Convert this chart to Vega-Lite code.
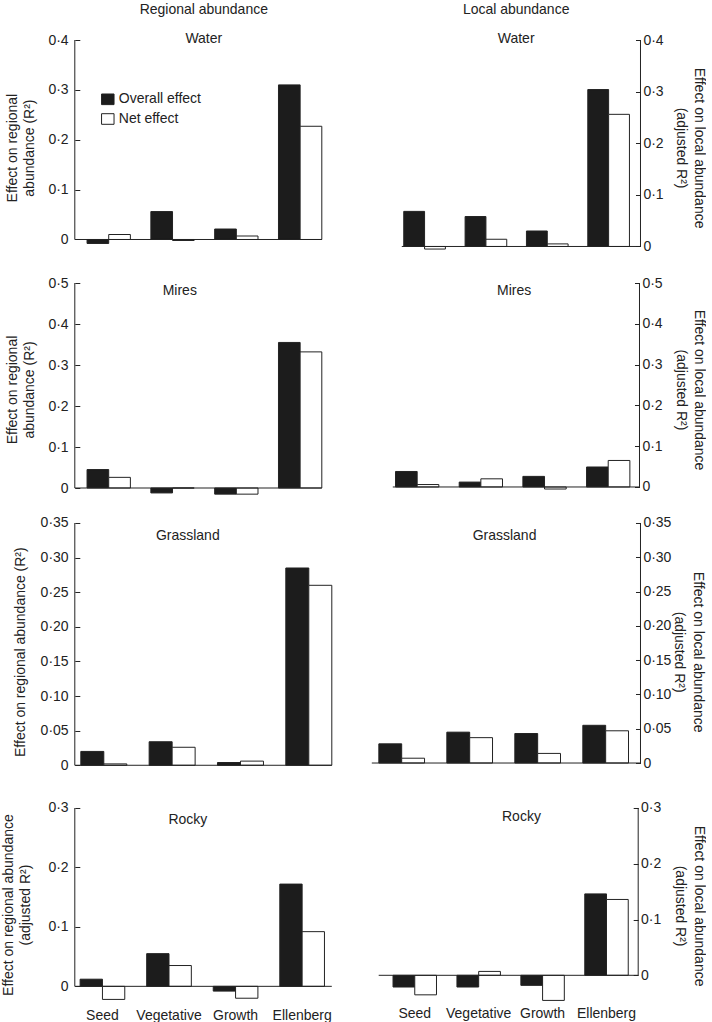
{
  "$schema": "https://vega.github.io/schema/vega-lite/v6.json",
  "padding": {"left": 1.8, "top": 2, "right": 0, "bottom": 0},
  "config": {
    "font": "Liberation Sans",
    "view": {"stroke": null},
    "axis": {"labelFontSize": 14, "titleFontSize": 14, "titleFontWeight": "normal", "labelColor": "#222", "titleColor": "#222", "tickColor": "#222", "tickSize": -5, "tickWidth": 1, "domain": false, "grid": false, "labelOverlap": false, "tickCount": 12},
    "title": {"fontSize": 14, "fontWeight": "normal", "color": "#222", "subtitleFontSize": 14, "subtitleColor": "#222", "subtitleFont": "Liberation Sans", "subtitlePadding": 15, "frame": "group", "anchor": "middle"},
    "legend": {"labelFontSize": 14, "labelColor": "#222"}
  },
  "datasets": {
    "d": [
      {"habitat": "Water", "scope": "regional", "trait": "Seed", "effect": "Overall effect", "value": -0.008},
      {"habitat": "Water", "scope": "regional", "trait": "Seed", "effect": "Net effect", "value": 0.010},
      {"habitat": "Water", "scope": "regional", "trait": "Vegetative", "effect": "Overall effect", "value": 0.056},
      {"habitat": "Water", "scope": "regional", "trait": "Vegetative", "effect": "Net effect", "value": -0.002},
      {"habitat": "Water", "scope": "regional", "trait": "Growth", "effect": "Overall effect", "value": 0.021},
      {"habitat": "Water", "scope": "regional", "trait": "Growth", "effect": "Net effect", "value": 0.007},
      {"habitat": "Water", "scope": "regional", "trait": "Ellenberg", "effect": "Overall effect", "value": 0.310},
      {"habitat": "Water", "scope": "regional", "trait": "Ellenberg", "effect": "Net effect", "value": 0.227},
      {"habitat": "Water", "scope": "local", "trait": "Seed", "effect": "Overall effect", "value": 0.068},
      {"habitat": "Water", "scope": "local", "trait": "Seed", "effect": "Net effect", "value": -0.005},
      {"habitat": "Water", "scope": "local", "trait": "Vegetative", "effect": "Overall effect", "value": 0.058},
      {"habitat": "Water", "scope": "local", "trait": "Vegetative", "effect": "Net effect", "value": 0.014},
      {"habitat": "Water", "scope": "local", "trait": "Growth", "effect": "Overall effect", "value": 0.030},
      {"habitat": "Water", "scope": "local", "trait": "Growth", "effect": "Net effect", "value": 0.005},
      {"habitat": "Water", "scope": "local", "trait": "Ellenberg", "effect": "Overall effect", "value": 0.304},
      {"habitat": "Water", "scope": "local", "trait": "Ellenberg", "effect": "Net effect", "value": 0.256},
      {"habitat": "Mires", "scope": "regional", "trait": "Seed", "effect": "Overall effect", "value": 0.045},
      {"habitat": "Mires", "scope": "regional", "trait": "Seed", "effect": "Net effect", "value": 0.026},
      {"habitat": "Mires", "scope": "regional", "trait": "Vegetative", "effect": "Overall effect", "value": -0.012},
      {"habitat": "Mires", "scope": "regional", "trait": "Vegetative", "effect": "Net effect", "value": 0.0},
      {"habitat": "Mires", "scope": "regional", "trait": "Growth", "effect": "Overall effect", "value": -0.015},
      {"habitat": "Mires", "scope": "regional", "trait": "Growth", "effect": "Net effect", "value": -0.015},
      {"habitat": "Mires", "scope": "regional", "trait": "Ellenberg", "effect": "Overall effect", "value": 0.355},
      {"habitat": "Mires", "scope": "regional", "trait": "Ellenberg", "effect": "Net effect", "value": 0.332},
      {"habitat": "Mires", "scope": "local", "trait": "Seed", "effect": "Overall effect", "value": 0.038},
      {"habitat": "Mires", "scope": "local", "trait": "Seed", "effect": "Net effect", "value": 0.006},
      {"habitat": "Mires", "scope": "local", "trait": "Vegetative", "effect": "Overall effect", "value": 0.012},
      {"habitat": "Mires", "scope": "local", "trait": "Vegetative", "effect": "Net effect", "value": 0.020},
      {"habitat": "Mires", "scope": "local", "trait": "Growth", "effect": "Overall effect", "value": 0.026},
      {"habitat": "Mires", "scope": "local", "trait": "Growth", "effect": "Net effect", "value": -0.005},
      {"habitat": "Mires", "scope": "local", "trait": "Ellenberg", "effect": "Overall effect", "value": 0.049},
      {"habitat": "Mires", "scope": "local", "trait": "Ellenberg", "effect": "Net effect", "value": 0.065},
      {"habitat": "Grassland", "scope": "regional", "trait": "Seed", "effect": "Overall effect", "value": 0.020},
      {"habitat": "Grassland", "scope": "regional", "trait": "Seed", "effect": "Net effect", "value": 0.002},
      {"habitat": "Grassland", "scope": "regional", "trait": "Vegetative", "effect": "Overall effect", "value": 0.034},
      {"habitat": "Grassland", "scope": "regional", "trait": "Vegetative", "effect": "Net effect", "value": 0.026},
      {"habitat": "Grassland", "scope": "regional", "trait": "Growth", "effect": "Overall effect", "value": 0.004},
      {"habitat": "Grassland", "scope": "regional", "trait": "Growth", "effect": "Net effect", "value": 0.006},
      {"habitat": "Grassland", "scope": "regional", "trait": "Ellenberg", "effect": "Overall effect", "value": 0.285},
      {"habitat": "Grassland", "scope": "regional", "trait": "Ellenberg", "effect": "Net effect", "value": 0.260},
      {"habitat": "Grassland", "scope": "local", "trait": "Seed", "effect": "Overall effect", "value": 0.028},
      {"habitat": "Grassland", "scope": "local", "trait": "Seed", "effect": "Net effect", "value": 0.007},
      {"habitat": "Grassland", "scope": "local", "trait": "Vegetative", "effect": "Overall effect", "value": 0.045},
      {"habitat": "Grassland", "scope": "local", "trait": "Vegetative", "effect": "Net effect", "value": 0.037},
      {"habitat": "Grassland", "scope": "local", "trait": "Growth", "effect": "Overall effect", "value": 0.043},
      {"habitat": "Grassland", "scope": "local", "trait": "Growth", "effect": "Net effect", "value": 0.014},
      {"habitat": "Grassland", "scope": "local", "trait": "Ellenberg", "effect": "Overall effect", "value": 0.055},
      {"habitat": "Grassland", "scope": "local", "trait": "Ellenberg", "effect": "Net effect", "value": 0.047},
      {"habitat": "Rocky", "scope": "regional", "trait": "Seed", "effect": "Overall effect", "value": 0.012},
      {"habitat": "Rocky", "scope": "regional", "trait": "Seed", "effect": "Net effect", "value": -0.022},
      {"habitat": "Rocky", "scope": "regional", "trait": "Vegetative", "effect": "Overall effect", "value": 0.055},
      {"habitat": "Rocky", "scope": "regional", "trait": "Vegetative", "effect": "Net effect", "value": 0.035},
      {"habitat": "Rocky", "scope": "regional", "trait": "Growth", "effect": "Overall effect", "value": -0.008},
      {"habitat": "Rocky", "scope": "regional", "trait": "Growth", "effect": "Net effect", "value": -0.020},
      {"habitat": "Rocky", "scope": "regional", "trait": "Ellenberg", "effect": "Overall effect", "value": 0.172},
      {"habitat": "Rocky", "scope": "regional", "trait": "Ellenberg", "effect": "Net effect", "value": 0.092},
      {"habitat": "Rocky", "scope": "local", "trait": "Seed", "effect": "Overall effect", "value": -0.021},
      {"habitat": "Rocky", "scope": "local", "trait": "Seed", "effect": "Net effect", "value": -0.035},
      {"habitat": "Rocky", "scope": "local", "trait": "Vegetative", "effect": "Overall effect", "value": -0.021},
      {"habitat": "Rocky", "scope": "local", "trait": "Vegetative", "effect": "Net effect", "value": 0.007},
      {"habitat": "Rocky", "scope": "local", "trait": "Growth", "effect": "Overall effect", "value": -0.018},
      {"habitat": "Rocky", "scope": "local", "trait": "Growth", "effect": "Net effect", "value": -0.045},
      {"habitat": "Rocky", "scope": "local", "trait": "Ellenberg", "effect": "Overall effect", "value": 0.146},
      {"habitat": "Rocky", "scope": "local", "trait": "Ellenberg", "effect": "Net effect", "value": 0.136}
    ]
  },
  "spacing": 20,
  "resolve": {"scale": {"x": "independent", "y": "independent", "xOffset": "independent"}, "legend": {"fill": "independent"}},
  "vconcat": [
    {
      "spacing": 78,
      "resolve": {"scale": {"x": "independent", "y": "independent", "xOffset": "independent"}, "legend": {"fill": "independent"}},
      "hconcat": [
        {
          "width": 247, "height": 215.2,
          "title": {"text": "Regional abundance", "subtitle": "Water", "dx": 5.5, "offset": -12.5},
          "data": {"name": "d"},
          "transform": [{"filter": "datum.habitat === 'Water' && datum.scope === 'regional'"}],
          "layer": [
            {"mark": {"type": "bar", "stroke": "#222", "strokeWidth": 1},
             "encoding": {
               "x": {"field": "trait", "type": "nominal", "sort": ["Seed", "Vegetative", "Growth", "Ellenberg"], "scale": {"paddingInner": 0.321, "paddingOuter": 0.096, "align": 1}, "axis": null},
               "xOffset": {"field": "effect", "type": "nominal", "sort": ["Overall effect", "Net effect"], "scale": {"paddingInner": 0, "paddingOuter": 0}},
               "y": {"field": "value", "type": "quantitative", "scale": {"domain": [-0.0315, 0.4], "nice": false, "zero": false},
                     "axis": {"values": [0, 0.1, 0.2, 0.3, 0.4], "tickCount": 12, "labelOverlap": false, "labelExpr": "datum.value === 0 ? '0' : replace(format(datum.value, '.1f'), '.', '·')", "title": ["Effect on regional", "abundance (R²)"], "titlePadding": 11.8, "titleLineHeight": 16.5, "labelPadding": 11.7}},
               "fill": {"field": "effect", "type": "nominal", "scale": {"domain": ["Overall effect", "Net effect"], "range": ["#1c1c1c", "#ffffff"]},
                        "legend": {"orient": "none", "legendX": 26, "legendY": 52.3, "title": null, "symbolType": "M-1,-0.85H1V0.85H-1Z", "symbolSize": 156, "symbolStrokeColor": "#222", "symbolStrokeWidth": 1, "labelOffset": 4, "rowPadding": 3.7, "padding": 0}}
             }},
            {"data": {"values": [{}]}, "mark": {"type": "rule", "color": "#222"}, "encoding": {"y": {"datum": 0}}},
            {"data": {"values": [{}]}, "mark": {"type": "rule", "color": "#222", "x": 0}, "encoding": {"y": {"datum": 0}, "y2": {"datum": 0.4}}}
          ]
        },
        {
          "width": 238.7, "height": 215.2,
          "title": {"text": "Local abundance", "subtitle": "Water", "dx": -5, "offset": -12.5},
          "data": {"name": "d"},
          "transform": [{"filter": "datum.habitat === 'Water' && datum.scope === 'local'"}],
          "layer": [
            {"mark": {"type": "bar", "stroke": "#222", "strokeWidth": 1},
             "encoding": {
               "x": {"field": "trait", "type": "nominal", "sort": ["Seed", "Vegetative", "Growth", "Ellenberg"], "scale": {"paddingInner": 0.321, "paddingOuter": 0.106, "align": 0.15}, "axis": null},
               "xOffset": {"field": "effect", "type": "nominal", "sort": ["Overall effect", "Net effect"], "scale": {"paddingInner": 0, "paddingOuter": 0}},
               "y": {"field": "value", "type": "quantitative", "scale": {"domain": [-0.0169, 0.4], "nice": false, "zero": false},
                     "axis": {"orient": "right", "values": [0, 0.1, 0.2, 0.3, 0.4], "tickCount": 12, "labelOverlap": false, "labelExpr": "datum.value === 0 ? '0' : replace(format(datum.value, '.1f'), '.', '·')", "title": ["Effect on local abundance", "(adjusted R²)"], "titlePadding": 10, "titleLineHeight": 18.4, "labelPadding": 7.4}},
               "fill": {"field": "effect", "type": "nominal", "scale": {"domain": ["Overall effect", "Net effect"], "range": ["#1c1c1c", "#ffffff"]}, "legend": null}
             }},
            {"data": {"values": [{}]}, "mark": {"type": "rule", "color": "#222"}, "encoding": {"y": {"datum": 0}}},
            {"data": {"values": [{}]}, "mark": {"type": "rule", "color": "#222", "x": "width"}, "encoding": {"y": {"datum": 0}, "y2": {"datum": 0.4}}}
          ]
        }
      ]
    },
    {
      "spacing": 69,
      "resolve": {"scale": {"x": "independent", "y": "independent", "xOffset": "independent"}, "legend": {"fill": "independent"}},
      "hconcat": [
        {
          "width": 247, "height": 213,
          "title": {"text": "Mires", "dx": -18.5, "offset": -21.8},
          "data": {"name": "d"},
          "transform": [{"filter": "datum.habitat === 'Mires' && datum.scope === 'regional'"}],
          "layer": [
            {"mark": {"type": "bar", "stroke": "#222", "strokeWidth": 1},
             "encoding": {
               "x": {"field": "trait", "type": "nominal", "sort": ["Seed", "Vegetative", "Growth", "Ellenberg"], "scale": {"paddingInner": 0.321, "paddingOuter": 0.096, "align": 1}, "axis": null},
               "xOffset": {"field": "effect", "type": "nominal", "sort": ["Overall effect", "Net effect"], "scale": {"paddingInner": 0, "paddingOuter": 0}},
               "y": {"field": "value", "type": "quantitative", "scale": {"domain": [-0.0195, 0.5], "nice": false, "zero": false},
                     "axis": {"values": [0, 0.1, 0.2, 0.3, 0.4, 0.5], "tickCount": 12, "labelOverlap": false, "labelExpr": "datum.value === 0 ? '0' : replace(format(datum.value, '.1f'), '.', '·')", "title": ["Effect on regional", "abundance (R²)"], "titlePadding": 11.8, "titleLineHeight": 16.5, "labelPadding": 11.7}},
               "fill": {"field": "effect", "type": "nominal", "scale": {"domain": ["Overall effect", "Net effect"], "range": ["#1c1c1c", "#ffffff"]}, "legend": null}
             }},
            {"data": {"values": [{}]}, "mark": {"type": "rule", "color": "#222"}, "encoding": {"y": {"datum": 0}}},
            {"data": {"values": [{}]}, "mark": {"type": "rule", "color": "#222", "x": 0}, "encoding": {"y": {"datum": 0}, "y2": {"datum": 0.5}}}
          ]
        },
        {
          "width": 246.7, "height": 213,
          "title": {"text": "Mires", "dx": -2, "offset": -21.8},
          "data": {"name": "d"},
          "transform": [{"filter": "datum.habitat === 'Mires' && datum.scope === 'local'"}],
          "layer": [
            {"mark": {"type": "bar", "stroke": "#222", "strokeWidth": 1},
             "encoding": {
               "x": {"field": "trait", "type": "nominal", "sort": ["Seed", "Vegetative", "Growth", "Ellenberg"], "scale": {"paddingInner": 0.32, "paddingOuter": 0.097, "align": 0.22}, "axis": null},
               "xOffset": {"field": "effect", "type": "nominal", "sort": ["Overall effect", "Net effect"], "scale": {"paddingInner": 0, "paddingOuter": 0}},
               "y": {"field": "value", "type": "quantitative", "scale": {"domain": [-0.0221, 0.5], "nice": false, "zero": false},
                     "axis": {"orient": "right", "values": [0, 0.1, 0.2, 0.3, 0.4, 0.5], "tickCount": 12, "labelOverlap": false, "labelExpr": "datum.value === 0 ? '0' : replace(format(datum.value, '.1f'), '.', '·')", "title": ["Effect on local abundance", "(adjusted R²)"], "titlePadding": 11, "titleLineHeight": 18.4, "labelPadding": 7.4}},
               "fill": {"field": "effect", "type": "nominal", "scale": {"domain": ["Overall effect", "Net effect"], "range": ["#1c1c1c", "#ffffff"]}, "legend": null}
             }},
            {"data": {"values": [{}]}, "mark": {"type": "rule", "color": "#222"}, "encoding": {"y": {"datum": 0}}},
            {"data": {"values": [{}]}, "mark": {"type": "rule", "color": "#222", "x": "width"}, "encoding": {"y": {"datum": 0}, "y2": {"datum": 0.5}}}
          ]
        }
      ]
    },
    {
      "spacing": 38,
      "resolve": {"scale": {"x": "independent", "y": "independent", "xOffset": "independent"}, "legend": {"fill": "independent"}},
      "hconcat": [
        {
          "width": 257, "height": 257.3,
          "title": {"text": "Grassland", "dx": -15.5, "offset": -26.8},
          "data": {"name": "d"},
          "transform": [{"filter": "datum.habitat === 'Grassland' && datum.scope === 'regional'"}],
          "layer": [
            {"mark": {"type": "bar", "stroke": "#222", "strokeWidth": 1},
             "encoding": {
               "x": {"field": "trait", "type": "nominal", "sort": ["Seed", "Vegetative", "Growth", "Ellenberg"], "scale": {"paddingInner": 0.327, "paddingOuter": 0.044, "align": 1}, "axis": null},
               "xOffset": {"field": "effect", "type": "nominal", "sort": ["Overall effect", "Net effect"], "scale": {"paddingInner": 0, "paddingOuter": 0}},
               "y": {"field": "value", "type": "quantitative", "scale": {"domain": [-0.0217, 0.35], "nice": false, "zero": false},
                     "axis": {"values": [0, 0.05, 0.1, 0.15, 0.2, 0.25, 0.3, 0.35], "tickCount": 12, "labelOverlap": false, "labelExpr": "datum.value === 0 ? '0' : replace(format(datum.value, '.2f'), '.', '·')", "title": "Effect on regional abundance (R²)", "titlePadding": 12.5, "labelPadding": 11.7}},
               "fill": {"field": "effect", "type": "nominal", "scale": {"domain": ["Overall effect", "Net effect"], "range": ["#1c1c1c", "#ffffff"]}, "legend": null}
             }},
            {"data": {"values": [{}]}, "mark": {"type": "rule", "color": "#222"}, "encoding": {"y": {"datum": 0}}},
            {"data": {"values": [{}]}, "mark": {"type": "rule", "color": "#222", "x": 0}, "encoding": {"y": {"datum": 0}, "y2": {"datum": 0.35}}}
          ]
        },
        {
          "width": 268.7, "height": 257.3,
          "title": {"text": "Grassland", "dx": -1.6, "offset": -26.8},
          "data": {"name": "d"},
          "transform": [{"filter": "datum.habitat === 'Grassland' && datum.scope === 'local'"}],
          "layer": [
            {"mark": {"type": "bar", "stroke": "#222", "strokeWidth": 1},
             "encoding": {
               "x": {"field": "trait", "type": "nominal", "sort": ["Seed", "Vegetative", "Growth", "Ellenberg"], "scale": {"paddingInner": 0.328, "paddingOuter": 0.14, "align": 0.37}, "axis": null},
               "xOffset": {"field": "effect", "type": "nominal", "sort": ["Overall effect", "Net effect"], "scale": {"paddingInner": 0, "paddingOuter": 0}},
               "y": {"field": "value", "type": "quantitative", "scale": {"domain": [-0.0252, 0.35], "nice": false, "zero": false},
                     "axis": {"orient": "right", "values": [0, 0.05, 0.1, 0.15, 0.2, 0.25, 0.3, 0.35], "tickCount": 12, "labelOverlap": false, "labelExpr": "datum.value === 0 ? '0' : replace(format(datum.value, '.2f'), '.', '·')", "title": ["Effect on local abundance", "(adjusted R²)"], "titlePadding": 1, "titleLineHeight": 18.4, "labelPadding": 7.4}},
               "fill": {"field": "effect", "type": "nominal", "scale": {"domain": ["Overall effect", "Net effect"], "range": ["#1c1c1c", "#ffffff"]}, "legend": null}
             }},
            {"data": {"values": [{}]}, "mark": {"type": "rule", "color": "#222"}, "encoding": {"y": {"datum": 0}}},
            {"data": {"values": [{}]}, "mark": {"type": "rule", "color": "#222", "x": "width"}, "encoding": {"y": {"datum": 0}, "y2": {"datum": 0.35}}}
          ]
        }
      ]
    },
    {
      "spacing": 44.9,
      "resolve": {"scale": {"x": "independent", "y": "independent", "xOffset": "independent"}, "legend": {"fill": "independent"}},
      "hconcat": [
        {
          "width": 257, "height": 193.2,
          "title": {"text": "Rocky", "dx": -15.5, "offset": -26.5},
          "data": {"name": "d"},
          "transform": [{"filter": "datum.habitat === 'Rocky' && datum.scope === 'regional'"}],
          "layer": [
            {"mark": {"type": "bar", "stroke": "#222", "strokeWidth": 1},
             "encoding": {
               "x": {"field": "trait", "type": "nominal", "sort": ["Seed", "Vegetative", "Growth", "Ellenberg"], "scale": {"paddingInner": 0.329, "paddingOuter": 0.095, "align": 0.42},
                     "axis": {"title": null, "labelAngle": 0, "ticks": false, "domain": false, "labelPadding": 7.5}},
               "xOffset": {"field": "effect", "type": "nominal", "sort": ["Overall effect", "Net effect"], "scale": {"paddingInner": 0, "paddingOuter": 0}},
               "y": {"field": "value", "type": "quantitative", "scale": {"domain": [-0.025, 0.3], "nice": false, "zero": false},
                     "axis": {"values": [0, 0.1, 0.2, 0.3], "tickCount": 12, "labelOverlap": false, "labelExpr": "datum.value === 0 ? '0' : replace(format(datum.value, '.1f'), '.', '·')", "title": ["Effect on regional abundance", "(adjusted R²)"], "titlePadding": 15, "titleLineHeight": 17, "labelPadding": 11.7}},
               "fill": {"field": "effect", "type": "nominal", "scale": {"domain": ["Overall effect", "Net effect"], "range": ["#1c1c1c", "#ffffff"]}, "legend": null}
             }},
            {"data": {"values": [{}]}, "mark": {"type": "rule", "color": "#222"}, "encoding": {"y": {"datum": 0}}},
            {"data": {"values": [{}]}, "mark": {"type": "rule", "color": "#222", "x": 0}, "encoding": {"y": {"datum": 0}, "y2": {"datum": 0.3}}}
          ]
        },
        {
          "width": 259.5, "height": 195.2,
          "title": {"text": "Rocky", "dx": 13, "offset": -23.5},
          "data": {"name": "d"},
          "transform": [{"filter": "datum.habitat === 'Rocky' && datum.scope === 'local'"}],
          "layer": [
            {"mark": {"type": "bar", "stroke": "#222", "strokeWidth": 1},
             "encoding": {
               "x": {"field": "trait", "type": "nominal", "sort": ["Seed", "Vegetative", "Growth", "Ellenberg"], "scale": {"paddingInner": 0.32, "paddingOuter": 0.19, "align": 0.59},
                     "axis": {"title": null, "labelAngle": 0, "ticks": false, "domain": false, "labelPadding": 3.3}},
               "xOffset": {"field": "effect", "type": "nominal", "sort": ["Overall effect", "Net effect"], "scale": {"paddingInner": 0, "paddingOuter": 0}},
               "y": {"field": "value", "type": "quantitative", "scale": {"domain": [-0.05, 0.3], "nice": false, "zero": false},
                     "axis": {"orient": "right", "values": [0, 0.1, 0.2, 0.3], "tickCount": 12, "labelOverlap": false, "labelExpr": "datum.value === 0 ? '0' : replace(format(datum.value, '.1f'), '.', '·')", "title": ["Effect on local abundance", "(adjusted R²)"], "titlePadding": 12, "titleLineHeight": 18.4, "labelPadding": 7.4}},
               "fill": {"field": "effect", "type": "nominal", "scale": {"domain": ["Overall effect", "Net effect"], "range": ["#1c1c1c", "#ffffff"]}, "legend": null}
             }},
            {"data": {"values": [{}]}, "mark": {"type": "rule", "color": "#222"}, "encoding": {"y": {"datum": 0}}},
            {"data": {"values": [{}]}, "mark": {"type": "rule", "color": "#222", "x": "width"}, "encoding": {"y": {"datum": 0}, "y2": {"datum": 0.3}}}
          ]
        }
      ]
    }
  ]
}
